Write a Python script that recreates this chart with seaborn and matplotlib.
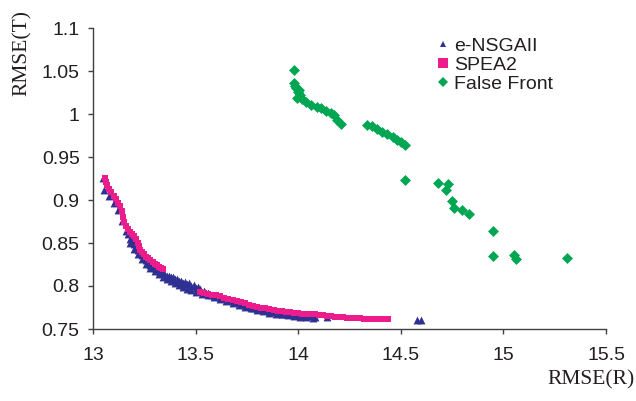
import numpy as np
import pandas as pd
import matplotlib
matplotlib.use("Agg")
import matplotlib.pyplot as plt
from matplotlib.lines import Line2D
import seaborn as sns

# ---------------- data ----------------
nsga_x = [13.050, 13.055, 13.08, 13.10, 13.12, 13.14, 13.16, 13.17, 13.18, 13.19,
          13.20, 13.21, 13.22, 13.23, 13.24, 13.25, 13.26, 13.27, 13.28, 13.29,
          13.30, 13.31, 13.32, 13.33, 13.34, 13.35, 13.36, 13.38, 13.40, 13.42,
          13.44, 13.46, 13.48, 13.50, 13.52, 13.54, 13.56, 13.58, 13.60, 13.62,
          13.64, 13.66, 13.68, 13.70, 13.72, 13.74, 13.76, 13.78, 13.80, 13.82,
          13.84, 13.86, 13.88, 13.90, 13.92, 13.94, 13.96, 13.98, 14.00, 14.02,
          14.04, 14.06, 14.08, 14.14, 14.58, 14.60,
          13.18, 13.20, 13.22, 13.24, 13.26, 13.28, 13.30, 13.32, 13.34, 13.36,
          13.38, 13.40, 13.42, 13.44, 13.46, 13.48, 13.50, 13.53, 13.56, 13.59,
          13.62, 13.65, 13.68, 13.71, 13.74, 13.77, 13.80, 13.83, 13.86, 13.89,
          13.92, 13.95, 13.98, 14.01, 14.04, 14.07,
          13.37, 13.39, 13.41, 13.43, 13.45, 13.47, 13.49, 13.51]
nsga_y = [0.926, 0.912, 0.905, 0.896, 0.888, 0.876, 0.864, 0.860, 0.855, 0.851,
          0.849, 0.846, 0.842, 0.839, 0.836, 0.832, 0.830, 0.827, 0.825, 0.823,
          0.821, 0.820, 0.818, 0.816, 0.815, 0.813, 0.812, 0.810, 0.808, 0.806,
          0.804, 0.802, 0.800, 0.798, 0.796, 0.794, 0.792, 0.790, 0.789, 0.787,
          0.786, 0.784, 0.782, 0.781, 0.779, 0.778, 0.777, 0.775, 0.774, 0.773,
          0.772, 0.771, 0.770, 0.769, 0.768, 0.768, 0.767, 0.766, 0.766, 0.765,
          0.765, 0.765, 0.764, 0.764, 0.761, 0.761,
          0.850, 0.843, 0.837, 0.831, 0.826, 0.821, 0.817, 0.814, 0.811, 0.808,
          0.806, 0.804, 0.801, 0.799, 0.797, 0.795, 0.793, 0.791, 0.789, 0.787,
          0.785, 0.782, 0.780, 0.778, 0.776, 0.774, 0.772, 0.771, 0.769, 0.768,
          0.767, 0.766, 0.765, 0.764, 0.764, 0.763,
          0.812, 0.810, 0.808, 0.806, 0.805, 0.803, 0.801, 0.799]

spea_x = [13.060, 13.065, 13.07, 13.08, 13.09, 13.10, 13.11, 13.12, 13.13, 13.14,
          13.145, 13.15, 13.16, 13.17, 13.18, 13.19, 13.20, 13.21, 13.22, 13.225,
          13.23, 13.24, 13.25, 13.26, 13.27, 13.28, 13.29, 13.30, 13.31, 13.32,
          13.33, 13.34,
          13.52, 13.54, 13.56, 13.58, 13.60, 13.62, 13.64, 13.66, 13.68, 13.70,
          13.72, 13.74, 13.76, 13.78, 13.80, 13.82, 13.84, 13.86, 13.88, 13.90,
          13.92, 13.94, 13.96, 13.98, 14.00, 14.02, 14.04, 14.06, 14.08, 14.10,
          14.12, 14.14, 14.16, 14.18, 14.20, 14.22, 14.24, 14.26, 14.28, 14.30,
          14.32, 14.34, 14.36, 14.38, 14.40, 14.42, 14.44]
spea_y = [0.926, 0.921, 0.917, 0.913, 0.909, 0.905, 0.901, 0.897, 0.893, 0.887,
          0.880, 0.875, 0.870, 0.866, 0.863, 0.860, 0.858, 0.855, 0.850, 0.846,
          0.842, 0.839, 0.837, 0.834, 0.832, 0.830, 0.828, 0.826, 0.824, 0.822,
          0.821, 0.820,
          0.793, 0.792, 0.791, 0.790, 0.789, 0.788, 0.786, 0.785, 0.784, 0.782,
          0.781, 0.780, 0.778, 0.777, 0.776, 0.775, 0.774, 0.773, 0.772, 0.771,
          0.771, 0.770, 0.770, 0.769, 0.769, 0.768, 0.768, 0.767, 0.767, 0.766,
          0.766, 0.765, 0.765, 0.764, 0.764, 0.764, 0.763, 0.763, 0.763, 0.763,
          0.762, 0.762, 0.762, 0.762, 0.762, 0.762, 0.762]

false_x = [13.98, 13.98, 13.99, 14.00, 14.01, 13.995, 14.02, 14.04, 14.06, 14.09,
           14.11, 14.135, 14.16, 14.175, 14.19, 14.21, 13.985, 14.005,
           14.335, 14.36, 14.385, 14.41, 14.435, 14.46, 14.48, 14.50, 14.52,
           14.52, 14.68, 14.73, 14.72, 14.75, 14.76, 14.80, 14.83, 14.95, 14.95,
           15.05, 15.06, 15.31]
false_y = [1.051, 1.036, 1.030, 1.026, 1.022, 1.019, 1.017, 1.014, 1.010, 1.008,
           1.007, 1.003, 1.001, 0.999, 0.993, 0.988, 1.033, 1.028,
           0.987, 0.986, 0.983, 0.979, 0.977, 0.973, 0.970, 0.967, 0.964,
           0.923, 0.920, 0.919, 0.912, 0.899, 0.891, 0.888, 0.884, 0.864, 0.835,
           0.836, 0.831, 0.833]

series_names = ["e-NSGAII", "SPEA2", "False Front"]
x_ticks = [13, 13.5, 14, 14.5, 15, 15.5]
x_tick_labels = ["13", "13.5", "14", "14.5", "15", "15.5"]
y_ticks = [0.75, 0.8, 0.85, 0.9, 0.95, 1, 1.05, 1.1]
y_tick_labels = ["0.75", "0.8", "0.85", "0.9", "0.95", "1", "1.05", "1.1"]

# ---------------- styling ----------------
sns.set_style("white")
plt.rcParams["font.family"] = ["Liberation Sans", "DejaVu Sans"]

BLUE = "#2e3192"
PINK = "#ec1c8c"
GREEN = "#00a651"
TXT = "#231f20"

df = pd.concat([
    pd.DataFrame({"x": nsga_x, "y": nsga_y, "series": series_names[0]}),
    pd.DataFrame({"x": spea_x, "y": spea_y, "series": series_names[1]}),
    pd.DataFrame({"x": false_x, "y": false_y, "series": series_names[2]}),
], ignore_index=True)

fig = plt.figure(figsize=(6.36, 4.01), dpi=100)
ax = fig.add_axes([93 / 636, 1 - 329 / 401, 513 / 636, 301 / 401])

sns.scatterplot(data=df[df.series == series_names[0]], x="x", y="y", ax=ax,
                marker="^", color=BLUE, s=32, linewidth=0, legend=False)
sns.scatterplot(data=df[df.series == series_names[1]], x="x", y="y", ax=ax,
                marker="s", color=PINK, s=18, linewidth=0, legend=False)
sns.scatterplot(data=df[df.series == series_names[2]], x="x", y="y", ax=ax,
                marker="D", color=GREEN, s=31, linewidth=0, legend=False)

ax.set_xlim(13, 15.5)
ax.set_ylim(0.75, 1.1)
ax.set_xticks(x_ticks)
ax.set_xticklabels(x_tick_labels)
ax.set_yticks(y_ticks)
ax.set_yticklabels(y_tick_labels)
ax.set_xlabel("")
ax.set_ylabel("")
for side in ["top", "right"]:
    ax.spines[side].set_visible(False)
for side in ["left", "bottom"]:
    ax.spines[side].set_color("#404040")
    ax.spines[side].set_linewidth(1.0)
ax.tick_params(axis="both", direction="out", length=3.6, width=1.0,
               color="#404040", labelsize=14, labelcolor=TXT)
ax.tick_params(axis="x", pad=9.5, bottom=True)
ax.tick_params(axis="y", pad=6, left=True)

fig.text(22 / 636, 1 - 53 / 401, "RMSE(T)", rotation=90, ha="center", va="center",
         family=["Liberation Serif", "DejaVu Serif"], size=15.5, color=TXT)
fig.text(591 / 636, 1 - 380 / 401, "RMSE(R)", ha="center", va="center",
         family=["Liberation Serif", "DejaVu Serif"], size=15.5, color=TXT)

handles = [
    Line2D([], [], linestyle="none", marker="^", color=BLUE, markersize=4.2, markeredgewidth=0),
    Line2D([], [], linestyle="none", marker="s", color=PINK, markersize=7, markeredgewidth=0),
    Line2D([], [], linestyle="none", marker="D", color=GREEN, markersize=5, markeredgewidth=0),
]
leg = ax.legend(handles, series_names, loc="upper left",
                bbox_to_anchor=(435 / 636, 1 - 37 / 401), bbox_transform=fig.transFigure,
                frameon=False, fontsize=14, handlelength=0.8, handletextpad=0.2,
                labelspacing=0.08, borderpad=0, borderaxespad=0)
for t in leg.get_texts():
    t.set_color(TXT)

fig.savefig("out.png", dpi=100)
